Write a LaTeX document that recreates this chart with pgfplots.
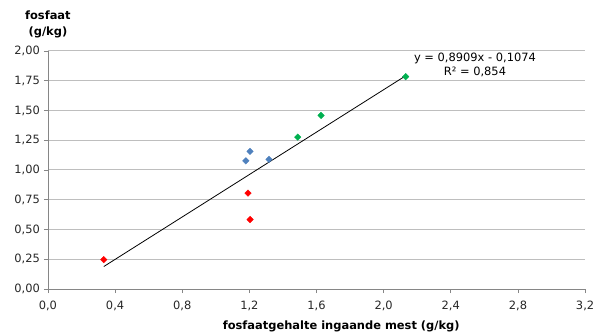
\documentclass[border=0pt]{standalone}
\usepackage{pgfplots}
\pgfplotsset{compat=1.18}
\usepackage{fontspec}
\setmainfont{DejaVu Sans}
\definecolor{xblue}{RGB}{79,129,189}
\definecolor{xred}{RGB}{255,0,0}
\definecolor{xgreen}{RGB}{0,176,80}
\definecolor{gridc}{RGB}{190,190,190}
\definecolor{axc}{RGB}{134,134,134}
\begin{document}
\fontsize{11.5}{13}\selectfont
\begin{tikzpicture}
\begin{axis}[
  scale only axis,
  width=538bp, height=238.5bp,
  at={(0,0)}, anchor=south west,
  xmin=0, xmax=3.2, ymin=0, ymax=2,
  xtick={0,0.4,...,3.2},
  ytick={0,0.25,...,2},
  axis x line*=bottom, axis y line*=left,
  axis line style={axc, line width=0.8bp, -},
  ymajorgrids, grid style={gridc, line width=1bp},
  tick style={axc, line width=0.8bp},
  tick align=outside, major tick length=4bp,
  xticklabel style={yshift=-4bp, /pgf/number format/.cd, fixed, fixed zerofill, precision=1, use comma, assume math mode=true},
  yticklabel style={/pgf/number format/.cd, fixed, fixed zerofill, precision=2, use comma, assume math mode=true},
  scaled ticks=false,
  tick label style={font=\fontsize{11.5}{13}\selectfont, black!85},
  clip=false,
]
\addplot[only marks, mark=square*, mark options={rotate=45, fill=xred, draw=xred}, mark size=2.3bp]
  coordinates {(0.333,0.247) (1.192,0.806) (1.204,0.584)};
\addplot[only marks, mark=square*, mark options={rotate=45, fill=xblue, draw=xblue}, mark size=2.3bp]
  coordinates {(1.179,1.077) (1.204,1.156) (1.317,1.089)};
\addplot[only marks, mark=square*, mark options={rotate=45, fill=xgreen, draw=xgreen}, mark size=2.3bp]
  coordinates {(1.488,1.276) (1.627,1.458) (2.131,1.784)};
\addplot[black, line width=0.8bp] coordinates {(0.333,0.1893) (2.131,1.7911)};
\node[align=center, font=\bfseries\fontsize{11.5}{16}\selectfont, anchor=center] at (rel axis cs:0,1) [yshift=27bp] {fosfaat\\(g/kg)};
\node[align=center, font=\fontsize{11.5}{14}\selectfont, anchor=center] at (rel axis cs:0.795,1) [yshift=-14bp] {y = 0,8909x - 0,1074\\R² = 0,854};
\node[font=\bfseries\fontsize{11.5}{13}\selectfont, anchor=center] at (rel axis cs:0.546,0) [yshift=-37bp] {fosfaatgehalte ingaande mest (g/kg)};
\end{axis}
\path (-48bp,-46.5bp) rectangle (550bp,289.5bp);
\end{tikzpicture}
\end{document}
